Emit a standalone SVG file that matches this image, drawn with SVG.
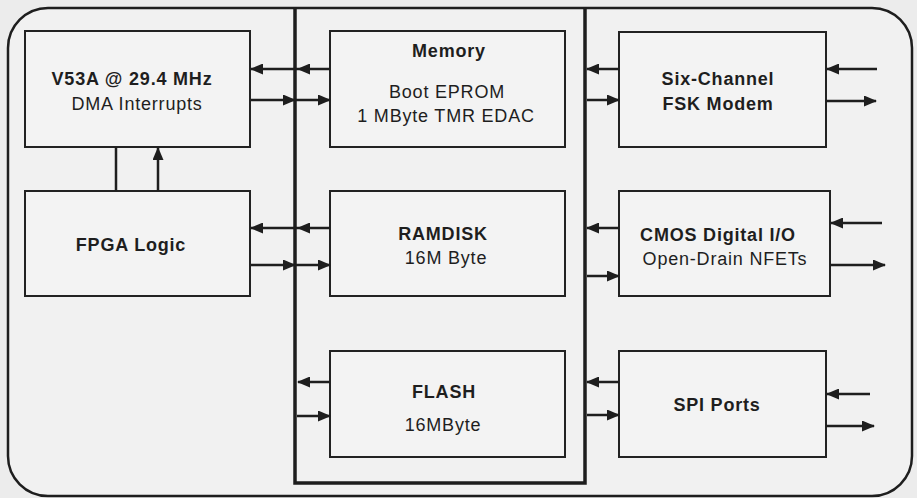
<svg xmlns="http://www.w3.org/2000/svg" width="917" height="498" viewBox="0 0 917 498">
<style>
.box{fill:#f3f3f3;stroke:#222;stroke-width:2}
.t{font-family:"Liberation Sans",Arial,sans-serif;font-size:18px;fill:#1e1e1e;text-anchor:middle;letter-spacing:0.8px}
.b{font-weight:bold}
.c{fill:none;stroke:#1e1e1e;stroke-width:2.5}
.ca{fill:none;stroke:#1e1e1e;stroke-width:2.5;marker-end:url(#arr)}
.cm{fill:none;stroke:#1e1e1e;stroke-width:2.5;marker-mid:url(#arr);marker-end:url(#arr)}
</style>
<defs>
<marker id="arr" viewBox="0 0 13 11" refX="12" refY="5.5" markerWidth="13" markerHeight="11" orient="auto" markerUnits="userSpaceOnUse">
<path d="M0,0 L13,5.5 L0,11 Z" fill="#1e1e1e"/>
</marker>
</defs>
<rect x="0" y="0" width="917" height="498" fill="#ececec"/>
<rect x="8" y="8" width="904" height="488" rx="40" ry="40" fill="#f1f1f1" stroke="#1e1e1e" stroke-width="2.5"/>
<path d="M295,8 V483 H585 V8" fill="none" stroke="#1e1e1e" stroke-width="3.5"/>

<g id="v53a">
<rect class="box" x="25" y="31" width="225" height="116"/>
<text class="t b" x="132" y="85">V53A @ 29.4 MHz</text>
<text class="t" x="137" y="110">DMA Interrupts</text>
</g>
<g id="fpga">
<rect class="box" x="25" y="191" width="225" height="105"/>
<text class="t b" x="131" y="251">FPGA Logic</text>
</g>
<g id="memory">
<rect class="box" x="330" y="31" width="235" height="116"/>
<text class="t b" x="449" y="57">Memory</text>
<text class="t" x="447" y="98">Boot EPROM</text>
<text class="t" x="446" y="122">1 MByte TMR EDAC</text>
</g>
<g id="ramdisk">
<rect class="box" x="330" y="191" width="235" height="105"/>
<text class="t b" x="443" y="240">RAMDISK</text>
<text class="t" x="446" y="264">16M Byte</text>
</g>
<g id="flash">
<rect class="box" x="330" y="351" width="235" height="106"/>
<text class="t b" x="444" y="398">FLASH</text>
<text class="t" x="443" y="431">16MByte</text>
</g>
<g id="modem">
<rect class="box" x="619" y="32" width="207" height="115"/>
<text class="t b" x="718" y="85">Six-Channel</text>
<text class="t b" x="718" y="110">FSK Modem</text>
</g>
<g id="cmos">
<rect class="box" x="619" y="191" width="211" height="105"/>
<text class="t b" x="718" y="241">CMOS Digital I/O</text>
<text class="t" x="725" y="265">Open-Drain NFETs</text>
</g>
<g id="spi">
<rect class="box" x="619" y="351" width="207" height="106"/>
<text class="t b" x="717" y="411">SPI Ports</text>
</g>

<g id="connectors">
<path class="cm" d="M330,69 L298,69 L251,69"/>
<path class="cm" d="M251,100 L295,100 L330,100"/>
<path class="cm" d="M330,228 L298,228 L251,228"/>
<path class="cm" d="M251,265 L295,265 L330,265"/>
<path class="ca" d="M330,382 L298,382"/>
<path class="ca" d="M297,416 L330,416"/>
<path class="ca" d="M619,69 L587,69"/>
<path class="ca" d="M587,100 L619,100"/>
<path class="ca" d="M877,69 L827,69"/>
<path class="ca" d="M826,101 L876,101"/>
<path class="ca" d="M619,228 L587,228"/>
<path class="ca" d="M587,276 L619,276"/>
<path class="ca" d="M882,223 L831,223"/>
<path class="ca" d="M830,265 L885,265"/>
<path class="ca" d="M619,382 L587,382"/>
<path class="ca" d="M587,415 L619,415"/>
<path class="ca" d="M870,394 L827,394"/>
<path class="ca" d="M826,426 L874,426"/>
<path class="c" d="M116,191 L116,147"/>
<path class="ca" d="M158,191 L158,148"/>
</g>
</svg>
